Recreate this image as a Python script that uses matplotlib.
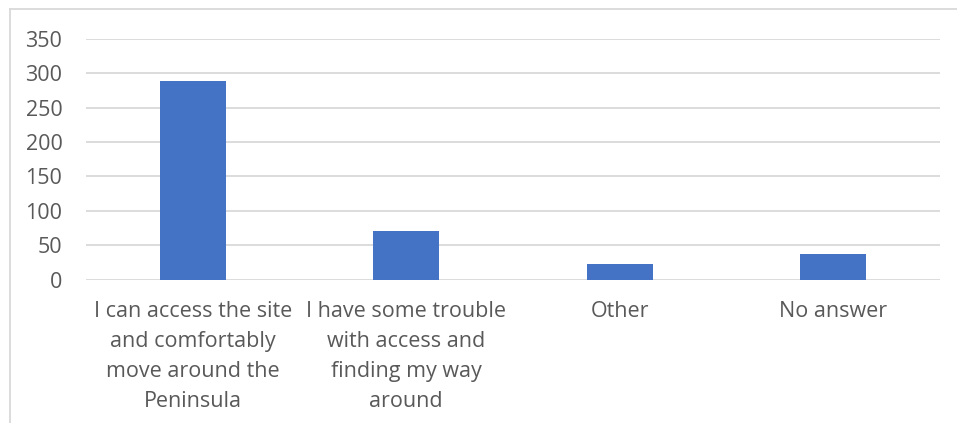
import matplotlib.pyplot as plt
from matplotlib.lines import Line2D

# Data
categories = [
    'I can access the site\nand comfortably\nmove around the\nPeninsula',
    'I have some trouble\nwith access and\nfinding my way\naround',
    'Other',
    'No answer',
]
counts = [289, 70, 23, 38]
y_ticks = [0, 50, 100, 150, 200, 250, 300, 350]

bar_color = '#4472C4'
text_color = '#595959'
grid_color = '#D9D9D9'

plt.rcParams['font.family'] = ['Open Sans', 'DejaVu Sans']

fig = plt.figure(figsize=(9.57, 4.23), dpi=100)
ax = fig.add_axes([86 / 957, 1 - 279.7 / 423, (940 - 86) / 957, (279.7 - 38.7) / 423])

x = range(len(categories))
ax.bar(x, counts, width=0.31, color=bar_color, zorder=3)

ax.set_xlim(-0.5, len(categories) - 0.5)
ax.set_ylim(0, 350)
ax.set_yticks(y_ticks)
ax.set_xticks(list(x))
ax.set_xticklabels(categories, linespacing=1.58, va='top')

ax.grid(axis='y', color=grid_color, linewidth=1.3, zorder=0)
for s in ax.spines.values():
    s.set_visible(False)
ax.tick_params(axis='both', length=0, labelsize=15.5, colors=text_color)
ax.tick_params(axis='y', pad=17)
ax.tick_params(axis='x', pad=15)

# chart border (top and left visible)
fig.add_artist(Line2D([9.5 / 957, 1], [1 - 9.5 / 423, 1 - 9.5 / 423],
                      transform=fig.transFigure, color=grid_color, linewidth=1.3))
fig.add_artist(Line2D([9.5 / 957, 9.5 / 957], [0, 1 - 9.5 / 423],
                      transform=fig.transFigure, color=grid_color, linewidth=1.3))

fig.savefig('out.png', dpi=100)
